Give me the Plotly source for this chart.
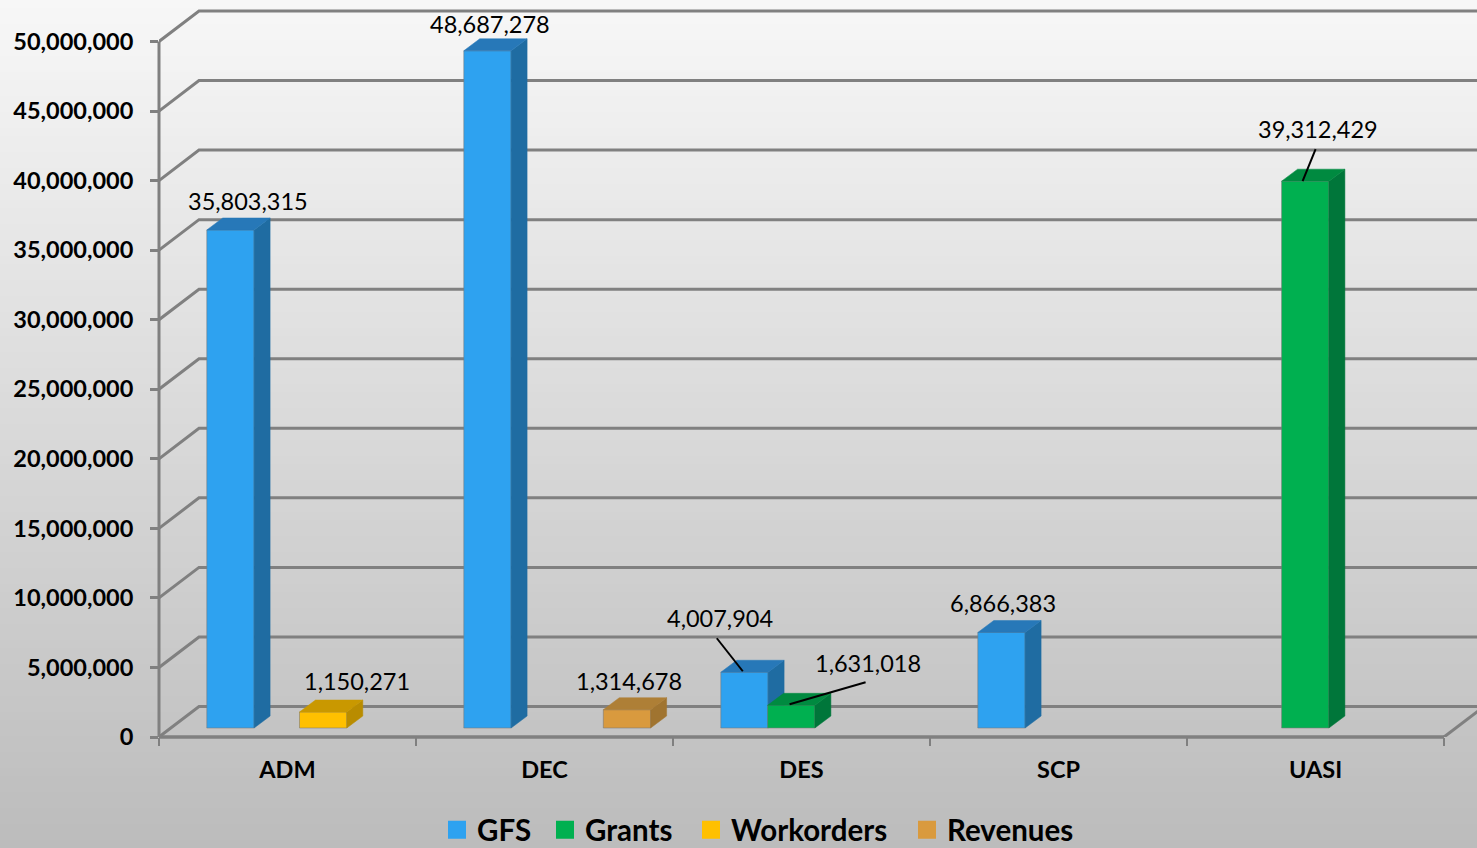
import plotly.graph_objects as go

categories = ["ADM", "DEC", "DES", "SCP", "UASI"]
gfs = [35803315, 48687278, 4007904, 6866383, None]
grants = [None, None, 1631018, None, 39312429]
workorders = [1150271, None, None, None, None]
revenues = [None, 1314678, None, None, None]
y_ticks = [0, 5000000, 10000000, 15000000, 20000000, 25000000, 30000000, 35000000, 40000000, 45000000, 50000000]

W, H = 1477, 848
AX_L, AX_B, CELL = 159.0, 737.0, 257.0
PXY = 50000000 / 695.5          # value per pixel
PXX = 1 / CELL                  # category unit per pixel
XMAX = (W - AX_L) * PXX
YMAX = AX_B * PXY
FONT = "Lato"
GRID = "#808080"

BAR_W = 47.3 * PXX
BAR_BASE = 9.0 * PXY            # bars stand slightly behind the front edge
DX, DY = 16 * PXX, 12 * PXY     # bar depth
WX, WY = 40 * PXX, 30.5 * PXY   # wall depth

# name, values, slot offset, front, side, top colours, axes
series = [
    ("GFS", gfs, 47.8, "#2EA2F0", "#1F6CA2", "#2778B8", "x", "y"),
    ("Workorders", workorders, 140.5, "#FFC000", "#B98C00", "#C99800", "x", "y"),
    ("Revenues", revenues, 187.3, "#D99A3E", "#A07430", "#AE7F36", "x", "y"),
    ("Grants", grants, 94.6, "#00B050", "#00763A", "#008A40", "x2", "y2"),
]
legend_order = ["GFS", "Grants", "Workorders", "Revenues"]
legend_widths = [63, 101, 171, 130]

# label offsets in pixels from the bar's front top-left corner:
# (series, category index, label dx, label dy, leader start dx/dy, leader end dx/dy)
labels = [
    ("GFS", 0, 41, 29, None),
    ("Workorders", 0, 57, 31, None),
    ("GFS", 1, 26.5, 27, None),
    ("Revenues", 1, 25.5, 29, None),
    ("GFS", 2, -1, 54, (-4, 34, 22, 1)),
    ("Grants", 2, 100, 42.5, (98, 23, 22, 1)),
    ("GFS", 3, 25, 29, None),
    ("Grants", 4, 36, 52, (34, 32, 21, 0)),
]

fig = go.Figure()

# background gradient
shapes = []
BANDS = 106
for i in range(BANDS):
    t = i / (BANDS - 1)
    c = round(247 - t * (247 - 188))
    shapes.append(dict(type="rect", xref="paper", yref="paper", layer="below",
                       x0=0, x1=1, y0=1 - i / BANDS, y1=0,
                       fillcolor=f"rgb({c},{c},{c})", line_width=0))
# back wall and floor lines
for v in y_ticks:
    shapes.append(dict(type="path", xref="x", yref="y", layer="below",
                       path=f"M 0 {v} L {WX} {v + WY} L {XMAX} {v + WY}",
                       line=dict(color=GRID, width=3)))
shapes.append(dict(type="line", xref="x", yref="y", layer="below", x0=5, x1=5 + WX,
                   y0=0, y1=WY, line=dict(color=GRID, width=3)))
# front axis lines
B = (H - AX_B) / H
L = AX_L / W
shapes.append(dict(type="line", xref="x", yref="paper", layer="below", x0=0, x1=5,
                   y0=B, y1=B, line=dict(color=GRID, width=3.5)))
shapes.append(dict(type="line", xref="paper", yref="y", layer="below", x0=L, x1=L,
                   y0=0, y1=50000000, line=dict(color=GRID, width=3)))

pos = {}
for name, vals, off, front, side, top, xa, ya in series:
    xs = [i + off * PXX if v is not None else None for i, v in enumerate(vals)]
    pos[name] = (xs, vals)
    fig.add_trace(go.Bar(x=xs, y=vals, base=[BAR_BASE] * len(vals), width=BAR_W, offset=0,
                         marker=dict(color=front, line=dict(color="rgba(120,120,120,0.55)", width=1)),
                         name=name, showlegend=False, xaxis=xa, yaxis=ya, hoverinfo="skip"))
    for x, v in zip(xs, vals):
        if v is None:
            continue
        r = x + BAR_W
        t = v + BAR_BASE
        fig.add_trace(go.Scatter(
            x=[r, r + DX, r + DX, r, r], y=[BAR_BASE, BAR_BASE + DY, t + DY, t, BAR_BASE],
            mode="lines", fill="toself", fillcolor=side, line=dict(color=side, width=0.5),
            showlegend=False, hoverinfo="skip", xaxis=xa, yaxis=ya))
        fig.add_trace(go.Scatter(
            x=[x, r, r + DX, x + DX, x], y=[t, t, t + DY, t + DY, t],
            mode="lines", fill="toself", fillcolor=top, line=dict(color=top, width=0.5),
            showlegend=False, hoverinfo="skip", xaxis=xa, yaxis=ya))

# legend entries
colors = {s[0]: s[3] for s in series}
for name, lw in zip(legend_order, legend_widths):
    fig.add_trace(go.Scatter(x=[None], y=[None], mode="markers", name=name, legendwidth=lw,
                             marker=dict(symbol="square", size=16, color=colors[name],
                                         line=dict(color=colors[name], width=2))))

# data labels and leader lines
annotations = []
for name, idx, dx, dy, leader in labels:
    xs, vals = pos[name]
    x0, v = xs[idx], vals[idx]
    t = v + BAR_BASE
    annotations.append(dict(x=x0 + dx * PXX, y=t + dy * PXY, xref="x", yref="y",
                            text=f"{v:,}", showarrow=False, xanchor="center", yanchor="middle",
                            font=dict(family=FONT, size=23.5, color="black")))
    if leader:
        sx, sy, ex, ey = leader
        fig.add_trace(go.Scatter(x=[x0 + sx * PXX, x0 + ex * PXX], y=[t + sy * PXY, t + ey * PXY],
                                 mode="lines", line=dict(color="black", width=2),
                                 showlegend=False, hoverinfo="skip", xaxis="x2", yaxis="y2"))

axis_font = dict(family=FONT, size=23.5, color="black", weight="bold")
fig.update_layout(
    width=W, height=H, margin=dict(l=0, r=0, t=0, b=0, pad=0, autoexpand=False), autosize=False,
    paper_bgcolor="#bcbcbc", plot_bgcolor="rgba(0,0,0,0)",
    barmode="overlay", showlegend=True, shapes=shapes, annotations=annotations,
    xaxis=dict(domain=[L, 1], range=[0, XMAX], tickmode="array", automargin=False,
               tickvals=[i + 0.5 for i in range(len(categories))], ticktext=categories,
               ticks="", showgrid=False, zeroline=False, showline=False,
               ticklabelstandoff=16, tickfont=axis_font,
               minor=dict(tickmode="array", tickvals=list(range(6)), ticks="outside",
                          ticklen=8, tickwidth=2, tickcolor=GRID, showgrid=False)),
    yaxis=dict(domain=[B, 1], range=[0, YMAX], tickmode="array", tickvals=y_ticks, automargin=False,
               ticktext=[f"{v:,}" for v in y_ticks], ticks="outside", ticklen=8, tickwidth=2.5,
               tickcolor=GRID, showgrid=False, zeroline=False, showline=False,
               ticklabelstandoff=12, tickfont=axis_font),
    xaxis2=dict(domain=[L, 1], range=[0, XMAX], overlaying="x", visible=False, anchor="y2"),
    yaxis2=dict(domain=[B, 1], range=[0, YMAX], overlaying="y", visible=False, anchor="x2"),
    legend=dict(orientation="h", x=437 / W, xanchor="left", y=18 / H, yanchor="middle",
                font=dict(family=FONT, size=29.5, color="black", weight="bold"),
                itemsizing="trace", itemwidth=30, bgcolor="rgba(0,0,0,0)", tracegroupgap=0),
)

fig.write_html("out.html", config={"displayModeBar": False},
               post_script="document.body.style.margin='0';document.documentElement.style.overflow='hidden';")
